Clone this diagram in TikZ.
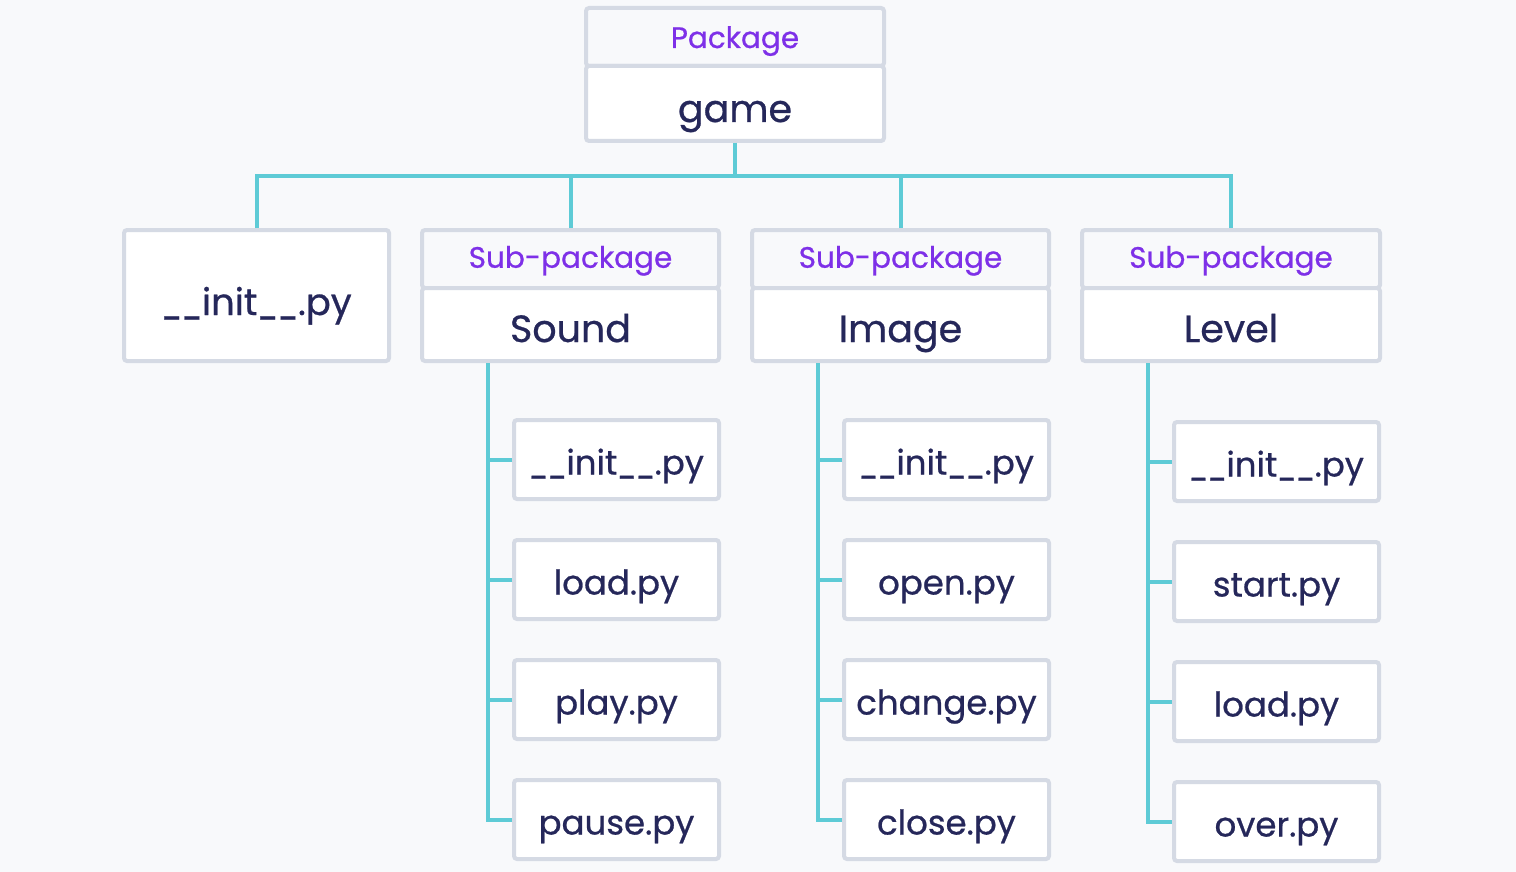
\documentclass[tikz,border=0pt]{standalone}
\usepackage{fontspec}
\usepackage{graphicx}
\setmainfont{Poppins}
\newfontfamily\medfont[FakeBold=0.7]{Poppins}
\newcommand{\usc}{\scalebox{0.75}[1]{\_}}
\usetikzlibrary{calc}
\definecolor{bg}{HTML}{F8F9FB}
\definecolor{bordc}{HTML}{D5DAE4}
\definecolor{teal}{HTML}{5ECBD6}
\definecolor{navy}{HTML}{25275A}
\definecolor{purp}{HTML}{7E30E8}
\tikzset{
  x=1pt, y=-1pt,
  hdr/.style={draw=bordc, line width=4pt, fill=bg, rounded corners=3pt, minimum height=58pt, inner sep=0pt, text depth=0pt, text height=17.5pt, text=purp, font=\medfont\fontsize{29.5}{32}\selectfont},
  bdy/.style={draw=bordc, line width=4pt, fill=white, rounded corners=3pt, inner sep=0pt, text depth=0pt, text height=35pt, text=navy, font=\medfont\fontsize{38}{42}\selectfont},
  filebox/.style={draw=bordc, line width=4pt, fill=white, rounded corners=3pt, minimum width=205pt, minimum height=79pt, inner sep=0pt, text depth=0pt, text height=30pt, text=navy, font=\medfont\fontsize{34}{38}\selectfont},
  conn/.style={draw=teal, line width=4pt},
}
\begin{document}
\begin{tikzpicture}
\fill[bg] (0,0) rectangle (1516,872);
\useasboundingbox (0,0) rectangle (1516,872);
% top package
\node[hdr, minimum width=298pt, text height=22pt] (gameh) at (735,37) {Package};
\node[bdy, minimum width=298pt, minimum height=75pt, text height=37pt] (game) at (735,103.5) {game};
% row 2
\node[bdy, minimum width=265pt, minimum height=131pt, text height=39pt, font=\medfont\fontsize{37}{40}\selectfont] (init0) at (256.5,295.5) {\usc\usc init\usc\usc.py};
\node[hdr, minimum width=297pt] (soundh) at (570.5,259) {Sub-package};
\node[bdy, minimum width=297pt, minimum height=73pt] (sound) at (570.5,324.5) {Sound};
\node[hdr, minimum width=297pt] (imageh) at (900.5,259) {Sub-package};
\node[bdy, minimum width=297pt, minimum height=73pt] (image) at (900.5,324.5) {Image};
\node[hdr, minimum width=298pt] (levelh) at (1231,259) {Sub-package};
\node[bdy, minimum width=298pt, minimum height=73pt] (level) at (1231,324.5) {Level};
% files
\node[filebox] (s1) at (616.5,459.5) {\usc\usc init\usc\usc.py};
\node[filebox] (s2) at (616.5,579.5) {load.py};
\node[filebox] (s3) at (616.5,699.5) {play.py};
\node[filebox] (s4) at (616.5,819.5) {pause.py};
\node[filebox] (i1) at (946.5,459.5) {\usc\usc init\usc\usc.py};
\node[filebox] (i2) at (946.5,579.5) {open.py};
\node[filebox] (i3) at (946.5,699.5) {change.py};
\node[filebox] (i4) at (946.5,819.5) {close.py};
\node[filebox] (l1) at (1276.5,461.5) {\usc\usc init\usc\usc.py};
\node[filebox] (l2) at (1276.5,581.5) {start.py};
\node[filebox] (l3) at (1276.5,701.5) {load.py};
\node[filebox] (l4) at (1276.5,821.5) {over.py};
% connectors
\coordinate (bus) at (735,176);
\draw[conn] (game.south) -- (bus);
\draw[conn] (init0.north) |- (bus);
\draw[conn] (level.north |- levelh.north) |- (bus);
\draw[conn] (soundh.north) -- (soundh.north |- bus);
\draw[conn] (imageh.north) -- (imageh.north |- bus);
\coordinate (sT) at (488,0);
\coordinate (iT) at (818,0);
\coordinate (lT) at (1148,0);
\draw[conn] (sound.south -| sT) |- (s4.west);
\draw[conn] (s1.west) -- (s1.west -| sT);
\draw[conn] (s2.west) -- (s2.west -| sT);
\draw[conn] (s3.west) -- (s3.west -| sT);
\draw[conn] (image.south -| iT) |- (i4.west);
\draw[conn] (i1.west) -- (i1.west -| iT);
\draw[conn] (i2.west) -- (i2.west -| iT);
\draw[conn] (i3.west) -- (i3.west -| iT);
\draw[conn] (level.south -| lT) |- (l4.west);
\draw[conn] (l1.west) -- (l1.west -| lT);
\draw[conn] (l2.west) -- (l2.west -| lT);
\draw[conn] (l3.west) -- (l3.west -| lT);
\end{tikzpicture}
\end{document}
